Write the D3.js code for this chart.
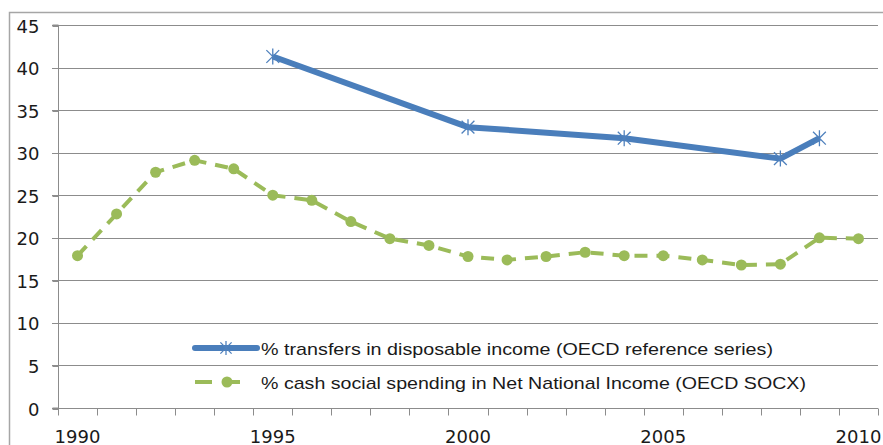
<!DOCTYPE html>
<html><head><meta charset="utf-8">
<script src="https://cdn.jsdelivr.net/npm/d3@7"></script>
<style>body{margin:0;background:#fff}svg{display:block}</style>
</head><body>
<svg id="c" width="883" height="445"></svg>
<script>
const years = d3.range(1990, 2011);
const yTicks = [0,5,10,15,20,25,30,35,40,45];
const xLabels = [1990,1995,2000,2005,2010];
const transferYears = [1995, 2000, 2004, 2008, 2009];
const transferValues = [41.3, 33.0, 31.7, 29.3, 31.7];
const socxYears = years;
const socxValues = [17.9, 22.8, 27.7, 29.1, 28.1, 25.0, 24.4, 21.9, 19.9, 19.1, 17.8, 17.4, 17.8, 18.3, 17.9, 17.9, 17.4, 16.8, 16.9, 20.0, 19.9];
const seriesNames = ["% transfers in disposable income (OECD reference series)", "% cash social spending in Net National Income (OECD SOCX)"];

const svg = d3.select("#c");
const L = 58, R = 878, T = 25, B = 408;
const x = d3.scaleBand().domain(years).range([L, R]).padding(0);
const y = d3.scaleLinear().domain([0, 45]).range([B, T]);
const cx = d => x(d) + x.bandwidth()/2;

// outer border
svg.append("path").attr("d", `M9.5,445 V12.5 H883`).attr("fill","none").attr("stroke","#a6a6a6").attr("stroke-width",1.5);

// gridlines
svg.append("g").selectAll("line").data(yTicks.filter(v=>v>0)).join("line")
  .attr("x1", L-6).attr("x2", R).attr("y1", d=>Math.round(y(d))+0.5).attr("y2", d=>Math.round(y(d))+0.5)
  .attr("stroke", "#8c8c8c").attr("stroke-width", 1.2);

// y axis
const ya = svg.append("g").attr("transform", `translate(${L+0.5},0)`)
  .call(d3.axisLeft(y).tickValues(yTicks).tickSize(6).tickPadding(13).tickFormat(d3.format("d")));
ya.select(".domain").attr("stroke","#8c8c8c").attr("d", `M-6,${y(0)}H0V${y(45)}H-6`);
ya.selectAll(".tick line").attr("stroke","#8c8c8c");
ya.selectAll(".tick").each(function(){ const t=d3.select(this); t.attr("transform", t.attr("transform").replace(/,([\d.]+)\)/, (m,v)=>","+(Math.round(+v)+0.5)+")")); });
ya.selectAll("text").attr("font-family","DejaVu Sans").attr("font-size",18).attr("fill","#1a1a1a").attr("dy","0.36em");

// x axis
const xa = svg.append("g").attr("transform", `translate(0,${Math.round(y(0))+0.5})`);
xa.append("line").attr("x1", L-6).attr("x2", R).attr("stroke","#8c8c8c").attr("stroke-width",1.2);
const bounds = years.map(d => x(d)).concat([R]);
xa.selectAll("line.tk").data(bounds).join("line").attr("class","tk")
  .attr("x1", d=>Math.round(d)+0.5).attr("x2", d=>Math.round(d)+0.5).attr("y1",0).attr("y2",7)
  .attr("stroke","#8c8c8c");
xa.selectAll("text").data(xLabels).join("text")
  .attr("x", d=>cx(d)).attr("y", 34).attr("text-anchor","middle")
  .attr("font-family","DejaVu Sans").attr("font-size",18).attr("fill","#1a1a1a").text(d=>d);

const blue = "#4a7ebb", green = "#9bbb59", starC = "#4f81bd";

// green dashed line
const gLine = d3.line().x((d,i)=>cx(socxYears[i])).y(d=>y(d));
svg.append("path").datum(socxValues).attr("d", gLine).attr("fill","none")
  .attr("stroke", green).attr("stroke-width", 4).attr("stroke-dasharray","13,9");
svg.append("g").selectAll("circle").data(socxValues).join("circle")
  .attr("cx",(d,i)=>cx(socxYears[i])).attr("cy",d=>y(d)).attr("r",5.5).attr("fill",green);

// blue line
const bLine = d3.line().x((d,i)=>cx(transferYears[i])).y(d=>y(d));
svg.append("path").datum(transferValues).attr("d", bLine).attr("fill","none")
  .attr("stroke", blue).attr("stroke-width", 6).attr("stroke-linejoin","round");
function star(g, px, py, r){
  const p = [];
  p.push(`M${px},${py-r}V${py+r}`);
  p.push(`M${px-r*0.8},${py-r*0.8}L${px+r*0.8},${py+r*0.8}`);
  p.push(`M${px-r*0.8},${py+r*0.8}L${px+r*0.8},${py-r*0.8}`);
  g.append("path").attr("d", p.join("")).attr("stroke", starC).attr("stroke-width",1.3).attr("fill","none");
}
const sg = svg.append("g");
transferValues.forEach((v,i)=>star(sg, cx(transferYears[i]), y(v), 8));

// legend
const lg = svg.append("g");
lg.append("line").attr("x1",195).attr("x2",257).attr("y1",348).attr("y2",348).attr("stroke",blue).attr("stroke-width",6).attr("stroke-linecap","round");
star(lg, 226, 348, 7);
lg.append("text").attr("x",261).attr("y",354.5).attr("font-family","Liberation Sans").attr("font-size",17).attr("fill","#1a1a1a")
  .attr("textLength",512).attr("lengthAdjust","spacingAndGlyphs").text(seriesNames[0]);
lg.append("line").attr("x1",195).attr("x2",212).attr("y1",382).attr("y2",382).attr("stroke",green).attr("stroke-width",4);
lg.append("line").attr("x1",222).attr("x2",240).attr("y1",382).attr("y2",382).attr("stroke",green).attr("stroke-width",4);
lg.append("circle").attr("cx",227).attr("cy",382).attr("r",5.5).attr("fill",green);
lg.append("text").attr("x",261).attr("y",388.5).attr("font-family","Liberation Sans").attr("font-size",17).attr("fill","#1a1a1a")
  .attr("textLength",545).attr("lengthAdjust","spacingAndGlyphs").text(seriesNames[1]);
</script>
</body></html>
